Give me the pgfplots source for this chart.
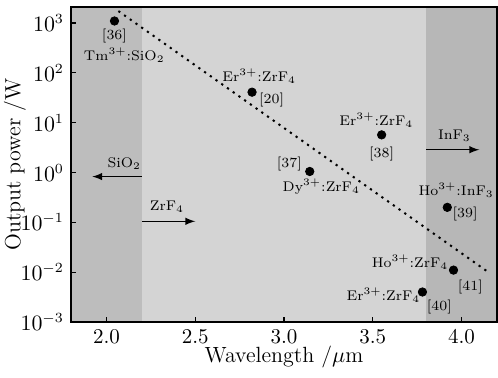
\documentclass[border=0pt]{standalone}
\usepackage{pgfplots}
\pgfplotsset{compat=1.18}
\definecolor{darkband}{HTML}{BDBDBD}
\definecolor{midband}{HTML}{D4D4D4}
\newcommand{\tp}{$^{\scriptscriptstyle 3+}$}
\begin{document}
\begin{tikzpicture}
\begin{axis}[
  scale only axis,
  width=213pt, height=157.5pt,
  xmin=1.8, xmax=4.2,
  ymode=log, log basis y=10,
  ymin=1e-3, ymax=2100,
  xtick={2.0,2.5,3.0,3.5,4.0},
  xticklabels={2.0,2.5,3.0,3.5,4.0},
  ytick={1e-3,1e-2,1e-1,1,10,100,1000},
  tick align=inside,
  xtick pos=bottom, ytick pos=left,
  major tick length=2.5pt, minor tick length=1.4pt,
  axis line style={line width=0.9pt},
  every tick/.style={black, line width=0.6pt},
  tick label style={font=\fontsize{10.5}{12}\selectfont},
  label style={font=\fontsize{11}{13}\selectfont},
  xlabel={Wavelength /$\mu$m},
  ylabel={Output power /W},
  xlabel style={at={(axis description cs:0.5,-0.111)}, anchor=center},
  ylabel style={at={(axis description cs:-0.1315,0.5)}, anchor=center},
  axis on top,
  clip=true,
]
\fill[darkband] (axis cs:1.8,1e-3) rectangle (axis cs:2.2,2100);
\fill[midband] (axis cs:2.2,1e-3) rectangle (axis cs:3.8,2100);
\fill[darkband!97!black] (axis cs:3.8,1e-3) rectangle (axis cs:4.2,2100);

\addplot[black, line width=1pt, dash pattern=on 1.1pt off 2.4pt] coordinates {(2.067,1740) (4.16,0.0095)};

\addplot[only marks, mark=*, mark size=2.1pt, black] coordinates {
 (2.045,1100) (2.82,41) (3.55,5.7) (3.145,1.05) (3.92,0.2) (3.955,0.011) (3.78,0.004)};

\draw[-latex, line width=0.7pt] (axis cs:2.2,0.83) -- (axis cs:1.92,0.83);
\draw[-latex, line width=0.7pt] (axis cs:2.2,0.105) -- (axis cs:2.5,0.105);
\draw[-latex, line width=0.7pt] (axis cs:3.8,2.87) -- (axis cs:4.1,2.87);

\begin{scope}[every node/.style={font=\fontsize{7}{8}\selectfont, inner sep=0pt}]
\node at (axis cs:2.045,550) {[36]};
\node at (axis cs:2.1,230) {Tm\tp:SiO$_2$};
\node at (axis cs:2.1,1.5) {SiO$_2$};
\node at (axis cs:2.34,0.21) {ZrF$_4$};
\node at (axis cs:2.86,87) {Er\tp:ZrF$_4$};
\node at (axis cs:2.93,29) {[20]};
\node at (axis cs:3.52,11) {Er\tp:ZrF$_4$};
\node at (axis cs:3.55,2.4) {[38]};
\node at (axis cs:3.96,5.5) {InF$_3$};
\node at (axis cs:3.03,1.5) {[37]};
\node at (axis cs:3.21,0.52) {Dy\tp:ZrF$_4$};
\node at (axis cs:3.97,0.44) {Ho\tp:InF$_3$};
\node at (axis cs:4.02,0.145) {[39]};
\node at (axis cs:3.71,0.016) {Ho\tp:ZrF$_4$};
\node at (axis cs:4.05,0.005) {[41]};
\node at (axis cs:3.56,0.0035) {Er\tp:ZrF$_4$};
\node at (axis cs:3.875,0.002) {[40]};
\end{scope}
\end{axis}
\pgfresetboundingbox
\path ([xshift=-35.5pt,yshift=-27.5pt]current axis.south west) rectangle ([xshift=0.5pt,yshift=3.5pt]current axis.north east);
\end{tikzpicture}
\end{document}
